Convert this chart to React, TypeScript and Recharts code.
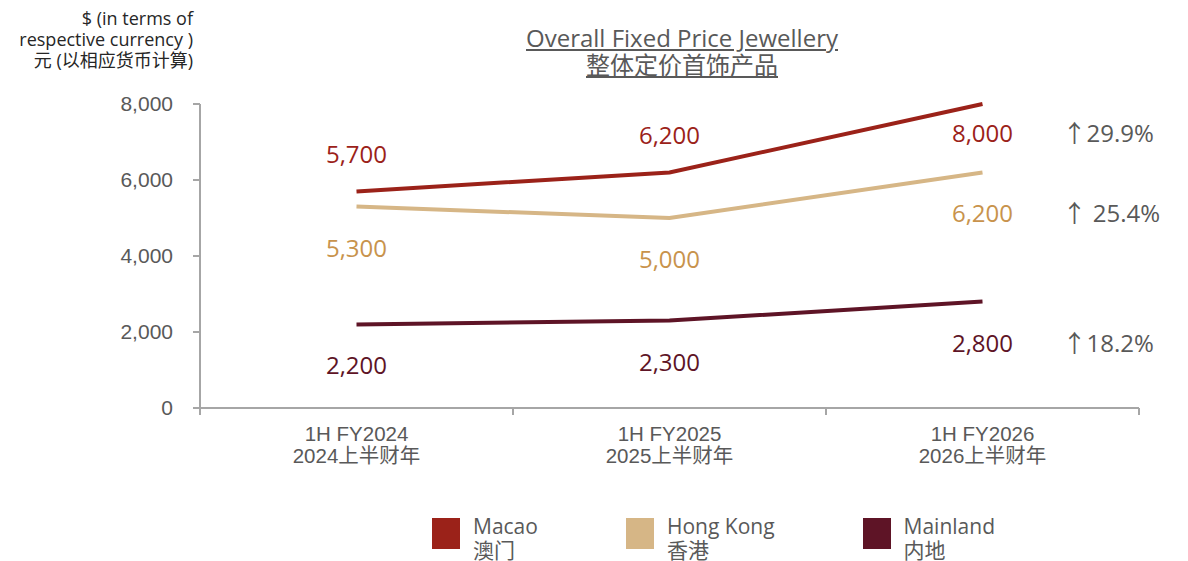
import { LineChart, Line, XAxis, YAxis, LabelList } from 'recharts';

const periods = ['1H FY2024', '1H FY2025', '1H FY2026'];
const periodsZh = ['2024上半财年', '2025上半财年', '2026上半财年'];
const macao = [5700, 6200, 8000];
const hongKong = [5300, 5000, 6200];
const mainland = [2200, 2300, 2800];
const growth = ['↑29.9%', '↑ 25.4%', '↑18.2%'];
const yTicks = [0, 2000, 4000, 6000, 8000];

const SERIES = [
  { key: 'macao', name: 'Macao', zh: '澳门', line: '#9B2219', text: '#9B2219', growth: growth[0] },
  { key: 'hongKong', name: 'Hong Kong', zh: '香港', line: '#D6B686', text: '#C8934C', growth: growth[1] },
  { key: 'mainland', name: 'Mainland', zh: '内地', line: '#5E1426', text: '#5E1426', growth: growth[2] },
];

// x sits in the middle of each category band so band edges land on integers
const data = periods.map((p, i) => ({
  x: i + 0.5,
  label: p,
  zh: periodsZh[i],
  macao: macao[i],
  hongKong: hongKong[i],
  mainland: mainland[i],
}));

const GRAY = '#595959';
const AXIS = '#A6A6A6';
const FONT = '"Open Sans", "Noto Sans CJK SC", sans-serif';
const AXFONT = '"Liberation Sans", Arial, "Noto Sans CJK SC", sans-serif';

function XTick(props: any) {
  const { x, y, payload } = props;
  const v = payload.value as number;
  if (Number.isInteger(v)) {
    return <line x1={x} x2={x} y1={y} y2={y + 7} stroke={AXIS} strokeWidth={2} />;
  }
  const d = data[Math.floor(v)];
  return (
    <g>
      <text x={x} y={y + 33} textAnchor="middle" fill={GRAY} fontSize={20.5} fontFamily={AXFONT}>{d.label}</text>
      <text x={x} y={y + 55} textAnchor="middle" fill={GRAY} fontSize={20.5} fontFamily={AXFONT}>{d.zh}</text>
    </g>
  );
}

function makeLabel(s: typeof SERIES[number]) {
  return (props: any) => {
    const { x, y, value, index } = props;
    const last = index === data.length - 1;
    let dy = 50;
    if (s.key === 'macao') dy = last ? 38 : -28;
    return (
      <g>
        <text x={x} y={y + dy} textAnchor="middle" fill={s.text} fontSize={24} fontFamily={FONT}>
          {Number(value).toLocaleString('en-US')}
        </text>
        {last && (
          <text x={x + 80} y={y + dy} fill={GRAY} fontSize={24} fontFamily={FONT}>{s.growth}</text>
        )}
      </g>
    );
  };
}

export default function App() {
  return (
    <div style={{ position: 'absolute', left: 0, top: 0, width: 1188, height: 561, background: '#fff', overflow: 'hidden' }}>
      <div style={{ position: 'absolute', right: 1188 - 193, top: 8, textAlign: 'right', fontFamily: FONT, fontSize: 18, lineHeight: '21px', color: '#262626', whiteSpace: 'nowrap' }}>
        $ (in terms of<br />respective currency )<br />元 (以相应货币计算)
      </div>
      <div style={{ position: 'absolute', left: 482, width: 400, top: 24, textAlign: 'center', fontFamily: FONT, fontSize: 24, lineHeight: '27px', color: GRAY, textDecoration: 'underline' }}>
        Overall Fixed Price Jewellery<br />整体定价首饰产品
      </div>
      <LineChart width={1188} height={561} data={data} margin={{ top: 104, right: 49, left: 0, bottom: 93 }}>
        <XAxis
          dataKey="x"
          type="number"
          domain={[0, 3]}
          ticks={[0, 0.5, 1, 1.5, 2, 2.5, 3]}
          interval={0}
          height={60}
          tickLine={false}
          tickSize={0}
          tickMargin={0}
          axisLine={{ stroke: AXIS, strokeWidth: 2 }}
          tick={<XTick />}
        />
        <YAxis
          width={200}
          domain={[0, 8000]}
          ticks={yTicks}
          interval={0}
          tickSize={7}
          tickMargin={20}
          tickFormatter={(v: number) => v.toLocaleString('en-US')}
          axisLine={{ stroke: AXIS, strokeWidth: 2 }}
          tickLine={{ stroke: AXIS, strokeWidth: 2 }}
          tick={{ fill: GRAY, fontSize: 21, fontFamily: AXFONT }}
        />
        {SERIES.map((s) => (
          <Line
            key={s.key}
            dataKey={s.key}
            name={s.name}
            type="linear"
            stroke={s.line}
            strokeWidth={4}
            dot={false}
            activeDot={false}
            isAnimationActive={false}
          >
            <LabelList dataKey={s.key} content={makeLabel(s)} />
          </Line>
        ))}
      </LineChart>
      <div style={{ position: 'absolute', left: 432, top: 514, display: 'flex', gap: 88, fontFamily: FONT, fontSize: 21, lineHeight: '24px', color: GRAY }}>
        {SERIES.map((s) => (
          <div key={s.key} style={{ display: 'flex', alignItems: 'flex-start' }}>
            <div style={{ width: 28, height: 31, background: s.line, marginTop: 4, marginRight: 13 }} />
            <div>{s.name}<br />{s.zh}</div>
          </div>
        ))}
      </div>
    </div>
  );
}
